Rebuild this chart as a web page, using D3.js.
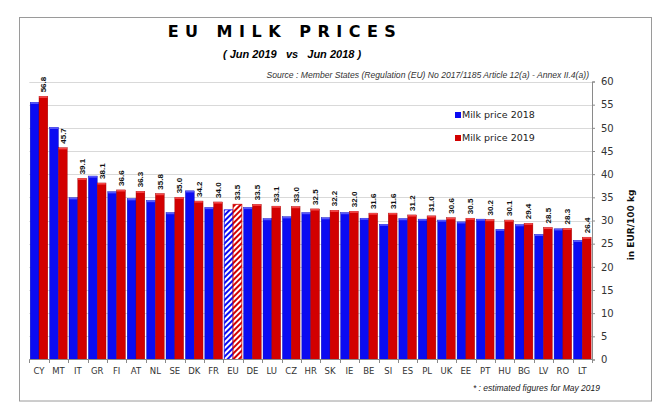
<!DOCTYPE html>
<html><head><meta charset="utf-8">
<script src="https://cdn.jsdelivr.net/npm/d3@7"></script>
<style>
html,body{margin:0;padding:0;background:#fff;}
svg{display:block;font-family:"Liberation Sans",Arial,sans-serif;}
</style></head>
<body>
<svg id="chart" width="667" height="419"></svg>
<script>
const categories = ["CY","MT","IT","GR","FI","AT","NL","SE","DK","FR","EU","DE","LU","CZ","HR","SK","IE","BE","SI","ES","PL","UK","EE","PT","HU","BG","LV","RO","LT"];
const price2018 = [55.5,50.1,34.9,39.6,36.2,34.7,34.3,31.7,36.4,32.8,32.3,32.8,30.4,30.8,31.7,30.6,31.7,30.5,29.2,30.4,30.3,30.1,29.7,30.3,28.1,29.1,27.0,28.2,25.7];
const price2019 = [56.8,45.7,39.1,38.1,36.6,36.3,35.8,35.0,34.2,34.0,33.5,33.5,33.1,33.0,32.5,32.2,32.0,31.6,31.6,31.2,31.0,30.6,30.5,30.2,30.1,29.4,28.5,28.3,26.4];
const seriesNames = ["Milk price 2018","Milk price 2019"];
const yTicks = [0,5,10,15,20,25,30,35,40,45,50,55,60];
const hatchedCategory = "EU";

const svg = d3.select("#chart");
const blue = "#0b0bf2", red = "#d20000";
const blueEdge = "#0000b0", redEdge = "#9a0000";

// defs: hatch patterns
const defs = svg.append("defs");
function hatch(id, color){
  const p = defs.append("pattern").attr("id", id).attr("patternUnits","userSpaceOnUse")
    .attr("width",4).attr("height",4).attr("patternTransform","rotate(45)");
  p.append("rect").attr("width",4).attr("height",4).attr("fill","#fff");
  p.append("rect").attr("width",2).attr("height",4).attr("fill",color);
}
hatch("hatchBlue", blue);
hatch("hatchRed", red);

// outer frame
svg.append("rect").attr("x",19.5).attr("y",17.5).attr("width",632).attr("height",383.5)
  .attr("fill","none").attr("stroke","#9a9a9a").attr("stroke-width",1);

const x = d3.scaleBand().domain(categories).range([29.3, 592]).padding(0);
const sub = d3.scaleBand().domain([0,1]).range([0.9, x.bandwidth()-0.9]).padding(0);
const y = d3.scaleLinear().domain([0,60]).range([359.5, 81.5]);

// gridlines
svg.append("g").selectAll("line").data(yTicks.filter(d=>d>0)).join("line")
  .attr("x1", 29.3).attr("x2", 592).attr("y1", d=>Math.round(y(d))+0.5).attr("y2", d=>Math.round(y(d))+0.5)
  .attr("stroke","#d9d9d9").attr("stroke-width",1);

// bars
const groups = svg.append("g").selectAll("g").data(categories).join("g")
  .attr("transform", d=>`translate(${x(d)},0)`);
const series = [price2018, price2019];
categories.forEach((c,i)=>{
  const g = d3.select(groups.nodes()[i]);
  [0,1].forEach(s=>{
    const v = series[s][i];
    const col = s===0 ? blue : red;
    const edge = s===0 ? blueEdge : redEdge;
    const isH = c===hatchedCategory;
    g.append("rect").attr("x", sub(s)).attr("width", sub.bandwidth())
      .attr("y", y(v)).attr("height", y(0)-y(v))
      .attr("fill", isH ? (s===0?"url(#hatchBlue)":"url(#hatchRed)") : col)
      .attr("stroke", isH ? col : edge).attr("stroke-width", isH?0.8:0.4);
    if(!isH){
      g.append("rect").attr("x", sub(s)+0.3).attr("width", sub.bandwidth()-0.6)
        .attr("y", y(v)).attr("height", 1.6)
        .attr("fill", s===0 ? "#6a6aff" : "#ff5a5a").attr("opacity",0.8);
    }
  });
  // value label above 2019 bar
  const lx = sub(1) + sub.bandwidth()/2 + 3;
  const ly = y(price2019[i]) - 4;
  g.append("text").attr("transform", `translate(${lx},${ly}) rotate(-90)`)
    .attr("font-size", 8).attr("font-weight","bold").attr("fill","#111")
    .text(price2019[i].toFixed(1));
});

// x axis
const xAxisG = svg.append("g");
xAxisG.append("line").attr("x1",29.3).attr("x2",592).attr("y1",359.5).attr("y2",359.5).attr("stroke","#8a8a8a");
xAxisG.selectAll("line.tk").data(categories.concat(["_end"])).join("line").attr("class","tk")
  .attr("x1",(d,i)=>Math.round(29.3 + i*x.bandwidth())+0.5).attr("x2",(d,i)=>Math.round(29.3 + i*x.bandwidth())+0.5)
  .attr("y1",359.5).attr("y2",363).attr("stroke","#8a8a8a");
xAxisG.selectAll("text").data(categories).join("text")
  .attr("x", d=>x(d)+x.bandwidth()/2).attr("y", 374)
  .attr("text-anchor","middle").attr("font-size",9.5).attr("fill","#333")
  .attr("font-family","DejaVu Sans, sans-serif").attr("font-size",8.5)
  .text(d=>d);

// y axis (right)
const yAxis = d3.axisRight(y).tickValues(yTicks).tickSize(3).tickPadding(6).tickFormat(d3.format("d"));
const yg = svg.append("g").attr("transform","translate(592,0)").call(yAxis);
yg.select(".domain").attr("stroke","#8a8a8a");
yg.selectAll(".tick line").attr("stroke","#8a8a8a");
yg.selectAll(".tick text").attr("font-size",10).attr("fill","#333").attr("font-family","DejaVu Sans, sans-serif");

// y axis title
svg.append("text").attr("transform","translate(634,225) rotate(-90)")
  .attr("text-anchor","middle").attr("font-size",9).attr("font-weight","bold").attr("fill","#111")
  .attr("font-family","DejaVu Sans, sans-serif")
  .text("in EUR/100 kg");

// titles
svg.append("text").attr("x",285).attr("y",37).attr("text-anchor","middle")
  .attr("font-size",16).attr("font-weight","bold").attr("letter-spacing","6.5px").attr("fill","#000")
  .attr("font-family","DejaVu Sans, sans-serif")
  .text("EU MILK PRICES");
svg.append("text").attr("x",292).attr("y",58).attr("text-anchor","middle")
  .attr("font-size",11).attr("font-weight","bold").attr("font-style","italic").attr("fill","#000")
  .attr("xml:space","preserve")
  .text("( Jun 2019   vs   Jun 2018 )");
svg.append("text").attr("x",589).attr("y",78).attr("text-anchor","end")
  .attr("font-size",8.6).attr("font-style","italic").attr("fill","#333")
  .text("Source : Member States (Regulation (EU) No 2017/1185 Article 12(a) - Annex II.4(a))");

// legend
const leg = svg.append("g");
seriesNames.forEach((n,i)=>{
  const ly = 118 + i*23;
  leg.append("rect").attr("x",455).attr("y",ly-6).attr("width",6).attr("height",6)
    .attr("fill", i===0?blue:red);
  leg.append("text").attr("x",462).attr("y",ly).attr("font-size",9.5).attr("fill","#222")
    .attr("font-family","DejaVu Sans, sans-serif")
    .text(n);
});

// footnote
svg.append("text").attr("x",600).attr("y",391).attr("text-anchor","end")
  .attr("font-size",8.5).attr("font-style","italic").attr("fill","#222")
  .text("* : estimated figures for May 2019");
</script>
</body></html>
